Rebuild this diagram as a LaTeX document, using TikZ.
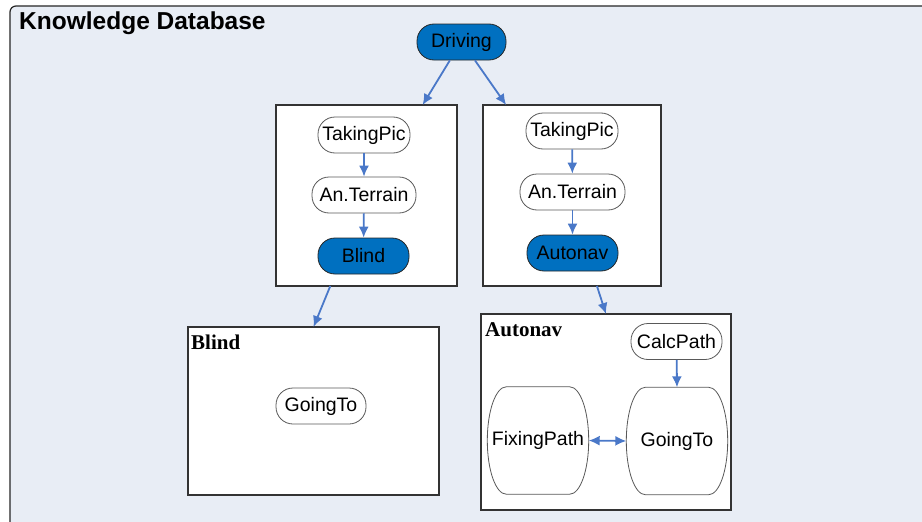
\documentclass[tikz,border=0pt]{standalone}
\usepackage{fontspec}
\setmainfont{Liberation Sans}
\newfontfamily\serifbold{Liberation Serif}
\usetikzlibrary{arrows.meta,calc}
\definecolor{bgc}{HTML}{E8EDF5}
\definecolor{nodeblue}{HTML}{0070C0}
\definecolor{arrblue}{HTML}{4A78C8}
\tikzset{
  pill/.style={draw=black!65, line width=0.8pt, fill=white, rounded corners=17pt,
    minimum height=36pt, inner sep=0pt, font=\fontsize{19.5}{22}\selectfont},
  bluepill/.style={pill, fill=nodeblue, draw=black!85},
  tallnode/.style={draw=none, fill=none, minimum width=101pt, minimum height=107pt,
    inner sep=0pt, font=\fontsize{19.5}{22}\selectfont},
  tallline/.style={draw=black!65, line width=0.8pt, fill=white},
  framebox/.style={draw=black!80, line width=1.2pt, fill=white, inner sep=0pt, outer sep=0pt},
  conn/.style={draw=arrblue, line width=1.8pt, -{Latex[length=11pt,width=10pt]}},
  dconn/.style={draw=arrblue, line width=1.8pt, {Latex[length=11pt,width=10pt]}-{Latex[length=11pt,width=10pt]}},
  boxlabel/.style={anchor=base west, inner sep=0pt, font=\serifbold\bfseries\fontsize{21}{23}\selectfont}
}
\newcommand{\tallshape}[1]{%
  \path[tallline]
    ($(#1.west)$)
      .. controls ($(#1.north west)+(0,24)$) and ($(#1.north west)+(8.5,0)$) .. ($(#1.north west)+(19,0)$)
      -- ($(#1.north east)+(-19,0)$)
      .. controls ($(#1.north east)+(-8.5,0)$) and ($(#1.north east)+(0,24)$) .. ($(#1.east)$)
      .. controls ($(#1.south east)+(0,-24)$) and ($(#1.south east)+(-8.5,0)$) .. ($(#1.south east)+(-19,0)$)
      -- ($(#1.south west)+(19,0)$)
      .. controls ($(#1.south west)+(8.5,0)$) and ($(#1.south west)+(0,-24)$) .. ($(#1.west)$)
      -- cycle;}
\begin{document}
\begin{tikzpicture}[x=1pt,y=-1pt]
\useasboundingbox (0,0) rectangle (922,522);
\fill[white] (0,0) rectangle (922,522);
\begin{scope}
\clip (0,0) rectangle (922,522);
\draw[fill=bgc, draw=black!85, line width=1.2pt, rounded corners=6pt] (10,6) rectangle (940,540);
\end{scope}
\node[anchor=base west, inner sep=0pt, font=\bfseries\fontsize{24.5}{27}\selectfont] (title) at (19,29.5) {Knowledge Database};

\node[bluepill, minimum width=89pt] (driving) at (461.5,42) {Driving};

\node[framebox, minimum width=181pt, minimum height=181pt] (lbox) at (366.5,195.5) {};
\node[framebox, minimum width=178pt, minimum height=181pt] (rbox) at (572,195.5) {};
\node[framebox, minimum width=251pt, minimum height=168pt] (blindbox) at (313.5,411) {};
\node[framebox, minimum width=250pt, minimum height=196pt] (autobox) at (606,412) {};

\node[boxlabel] (blindlbl) at (191,349) {Blind};
\node[boxlabel] (autolbl) at (485,336) {Autonav};

% left box
\node[pill, minimum width=92pt] (ltake) at (364,135) {TakingPic};
\node[pill, minimum width=104pt] (lterr) at (364,195) {An.Terrain};
\node[bluepill, minimum width=91pt] (lblind) at (363.5,256) {Blind};
% right box
\node[pill, minimum width=92pt] (rtake) at (572,131) {TakingPic};
\node[pill, minimum width=105pt] (rterr) at (572.5,192) {An.Terrain};
\node[bluepill, minimum width=91pt] (rauto) at (572.5,253) {Autonav};
% blind box
\node[pill, minimum width=90pt] (bgoing) at (321,406) {GoingTo};
% autonav box
\node[pill, minimum width=91pt] (calc) at (676.5,341.5) {CalcPath};
\node[tallnode] (fixing) at (538,440.5) {};
\node[tallnode] (agoing) at (677,441) {};
\tallshape{fixing}
\tallshape{agoing}
\node[font=\fontsize{19.5}{22}\selectfont] (fixingtxt) at (fixing.center) {FixingPath};
\node[font=\fontsize{19.5}{22}\selectfont] (agoingtxt) at (agoing.center) {GoingTo};

% connectors
\draw[conn] ($(driving.south west)!0.37!(driving.south east)$) -- ($(lbox.north west)!0.81!(lbox.north east)$);
\draw[conn] ($(driving.south west)!0.65!(driving.south east)$) -- ($(rbox.north west)!0.13!(rbox.north east)$);
\draw[conn] (ltake) -- (lterr);
\draw[conn] (lterr) -- (lblind);
\draw[conn] (rtake) -- (rterr);
\draw[conn] (rterr) -- (rauto);
\draw[conn] ($(lbox.south west)!0.30!(lbox.south east)$) -- (blindbox.north);
\draw[conn] ($(rbox.south west)!0.64!(rbox.south east)$) -- (autobox.north);
\draw[conn] (calc) -- (agoing.north);
\draw[dconn] (fixing.east) -- (agoing.west);
\end{tikzpicture}
\end{document}
